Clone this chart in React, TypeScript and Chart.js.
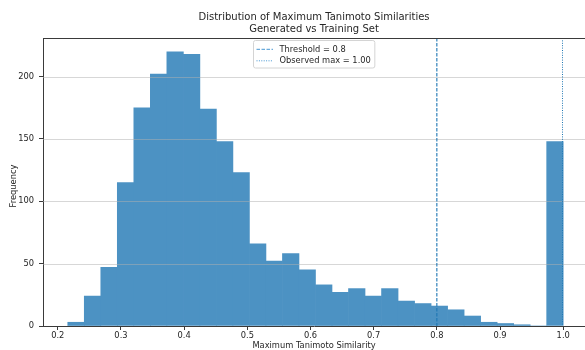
import React, { useEffect, useRef } from "react";
import { Chart, registerables } from "chart.js";

Chart.register(...registerables);

// ---- data ----
const binMin = 0.2158;
const binMax = 1.0;
const counts = [
  3, 24, 47, 115, 175, 202, 220, 218, 174, 148, 123, 66, 52, 58, 45,
  33, 27, 30, 24, 30, 20, 18, 16, 13, 8, 3, 2, 1, 0, 148,
];
const xTicks = [0.2, 0.3, 0.4, 0.5, 0.6, 0.7, 0.8, 0.9, 1.0];
const yTicks = [0, 50, 100, 150, 200];
const threshold = 0.8;
const observedMax = 1.0;
const titleLines = [
  "Distribution of Maximum Tanimoto Similarities",
  "Generated vs Training Set",
];
const xAxisLabel = "Maximum Tanimoto Similarity";
const yAxisLabel = "Frequency";
const legendLabels = ["Threshold = 0.8", "Observed max = 1.00"];

const FONT = "'DejaVu Sans', sans-serif";
const BAR_COLOR = "rgb(76,146,195)";
const LINE_COLOR = "rgb(31,119,180)";
const TEXT_COLOR = "#262626";
const SPINE_COLOR = "#3a3a3a";

export default function App() {
  const ref = useRef<HTMLCanvasElement | null>(null);

  useEffect(() => {
    const canvas = ref.current;
    if (!canvas) return;
    document.body.style.overflow = "hidden";

    const binWidth = (binMax - binMin) / counts.length;
    const points = counts.map((c, i) => ({ x: binMin + (i + 0.5) * binWidth, y: c }));

    const overlay = {
      id: "overlay",
      afterDatasetsDraw(chart: any) {
        const { ctx, chartArea, scales } = chart;
        const { left, right, top, bottom } = chartArea;
        ctx.save();
        // horizontal grid on top of bars
        ctx.strokeStyle = "rgba(176,176,176,0.5)";
        ctx.lineWidth = 1;
        yTicks.forEach((t) => {
          if (t === 0) return;
          const y = Math.round(scales.y.getPixelForValue(t)) + 0.5;
          ctx.beginPath();
          ctx.moveTo(left, y);
          ctx.lineTo(right, y);
          ctx.stroke();
        });
        // threshold line (dashed)
        const xt = scales.x.getPixelForValue(threshold);
        ctx.strokeStyle = LINE_COLOR;
        ctx.lineWidth = 1.1;
        ctx.setLineDash([3.5, 1.5]);
        ctx.beginPath();
        ctx.moveTo(xt, top);
        ctx.lineTo(xt, bottom);
        ctx.stroke();
        // observed max line (dotted)
        const xm = Math.round(scales.x.getPixelForValue(observedMax)) - 0.5;
        ctx.strokeStyle = LINE_COLOR;
        ctx.lineWidth = 1;
        ctx.setLineDash([1, 1.4]);
        ctx.beginPath();
        ctx.moveTo(xm, top);
        ctx.lineTo(xm, bottom);
        ctx.stroke();
        ctx.setLineDash([]);
        // top spine
        ctx.strokeStyle = SPINE_COLOR;
        ctx.lineWidth = 1;
        ctx.beginPath();
        ctx.moveTo(left, Math.round(top) + 0.5);
        ctx.lineTo(right, Math.round(top) + 0.5);
        ctx.stroke();
        ctx.restore();
      },
      afterDraw(chart: any) {
        const { ctx, chartArea } = chart;
        const { left, right, top, bottom } = chartArea;
        const cx = (left + right) / 2;
        ctx.save();
        // title
        ctx.fillStyle = TEXT_COLOR;
        ctx.font = `10px ${FONT}`;
        ctx.textAlign = "center";
        ctx.textBaseline = "middle";
        ctx.fillText(titleLines[0], cx, 17.5);
        ctx.fillText(titleLines[1], cx, 29);
        // axis labels
        ctx.font = `8.3px ${FONT}`;
        ctx.fillText(xAxisLabel, cx, 346);
        ctx.save();
        ctx.translate(14, (top + bottom) / 2 + 4);
        ctx.rotate(-Math.PI / 2);
        ctx.fillText(yAxisLabel, 0, 0);
        ctx.restore();
        // legend
        ctx.font = `8.3px ${FONT}`;
        const textW = Math.max(...legendLabels.map((l) => ctx.measureText(l).width));
        const pad = 3;
        const handle = 16.5;
        const gap = 6.5;
        const boxW = pad + handle + gap + textW + pad + 1;
        const boxH = 27.5;
        const bx = Math.round(cx - boxW / 2) + 0.5;
        const by = Math.round(top + 2) + 0.5;
        ctx.fillStyle = "rgba(255,255,255,0.85)";
        ctx.strokeStyle = "#d4d4d4";
        ctx.lineWidth = 1;
        ctx.beginPath();
        ctx.roundRect(bx, by, boxW, boxH, 2);
        ctx.fill();
        ctx.stroke();
        const rows = [by + 8.5, by + 20];
        const dashes = [[3.5, 1.5], [1, 1.4]];
        rows.forEach((ry, i) => {
          ctx.strokeStyle = "rgb(70,150,210)";
          ctx.lineWidth = 1;
          ctx.setLineDash(dashes[i]);
          ctx.beginPath();
          ctx.moveTo(bx + pad, ry + 0.3);
          ctx.lineTo(bx + pad + handle, ry + 0.3);
          ctx.stroke();
          ctx.setLineDash([]);
          ctx.fillStyle = TEXT_COLOR;
          ctx.textAlign = "left";
          ctx.textBaseline = "middle";
          ctx.fillText(legendLabels[i], bx + pad + handle + gap, ry + 0.5);
        });
        ctx.restore();
      },
    };

    const chart = new Chart(canvas, {
      type: "bar",
      data: {
        datasets: [
          {
            data: points as any,
            backgroundColor: BAR_COLOR,
            borderWidth: 0,
            barPercentage: 1,
            categoryPercentage: 1,
          },
        ],
      },
      options: {
        animation: false,
        responsive: false,
        devicePixelRatio: 1,
        layout: { padding: { top: 38, left: 0, right: 0, bottom: 0 } },
        plugins: {
          legend: { display: false },
          title: { display: false },
          tooltip: { enabled: false },
        },
        scales: {
          x: {
            type: "linear",
            offset: false,
            min: 0.1766,
            max: 1.0345,
            afterBuildTicks: (s: any) => {
              s.ticks = xTicks.map((v) => ({ value: v }));
            },
            afterFit: (s: any) => {
              s.height = 24;
            },
            ticks: {
              callback: (v: any) => Number(v).toFixed(1),
              font: { family: FONT, size: 8.3 },
              color: TEXT_COLOR,
              padding: 1,
              maxRotation: 0,
              autoSkip: false,
            },
            grid: {
              offset: false,
              drawOnChartArea: false,
              drawTicks: true,
              tickLength: 4,
              tickColor: SPINE_COLOR,
            },
            border: { color: SPINE_COLOR, width: 1 },
          },
          y: {
            type: "linear",
            min: 0,
            max: 231,
            afterBuildTicks: (s: any) => {
              s.ticks = yTicks.map((v) => ({ value: v }));
            },
            afterFit: (s: any) => {
              s.width = 43;
            },
            ticks: {
              font: { family: FONT, size: 8.3 },
              color: TEXT_COLOR,
              padding: 5,
              autoSkip: false,
            },
            grid: {
              drawOnChartArea: false,
              drawTicks: true,
              tickLength: 4,
              tickColor: SPINE_COLOR,
            },
            border: { color: SPINE_COLOR, width: 1 },
          },
        },
      },
      plugins: [overlay],
    });

    return () => {
      chart.destroy();
    };
  }, []);

  return (
    <div style={{ position: "fixed", left: 0, top: 0, width: 585, height: 350, background: "#fff" }}>
      <canvas ref={ref} width={585} height={350} style={{ display: "block" }} />
    </div>
  );
}
